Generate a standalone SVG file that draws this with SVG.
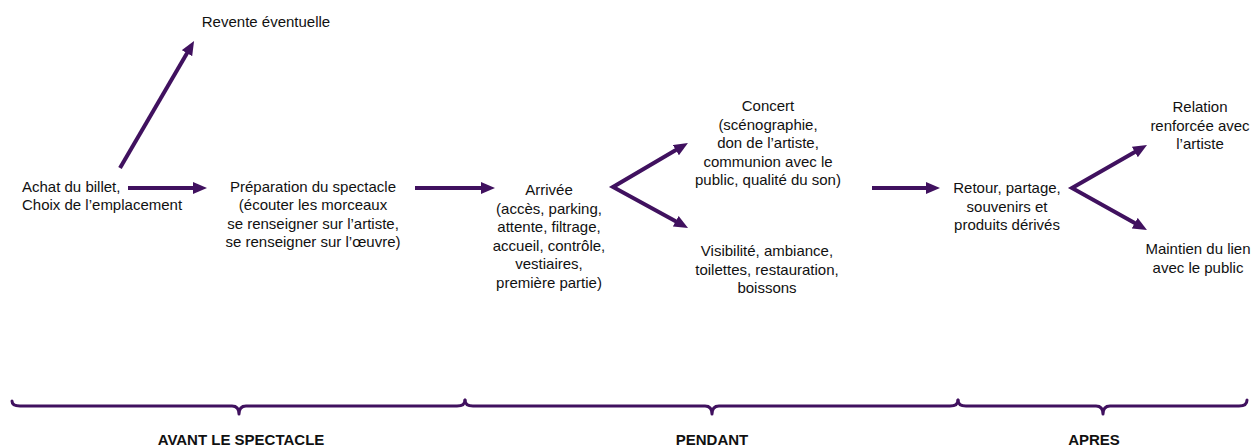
<svg xmlns="http://www.w3.org/2000/svg" width="1252" height="446" viewBox="0 0 1252 446">
<style>
text{font-family:"Liberation Sans",Arial,sans-serif;font-size:15px;fill:#111}
.c{text-anchor:middle}
.b{font-weight:bold;text-anchor:middle}
.arr{fill:none;stroke:#40115f;stroke-width:4;stroke-linejoin:miter}
.br{fill:none;stroke:#40115f;stroke-width:3;stroke-linejoin:round;stroke-linecap:round}
</style>
<defs>
<marker id="ah" markerUnits="userSpaceOnUse" markerWidth="14" markerHeight="12" refX="2" refY="6" orient="auto-start-reverse" viewBox="0 0 14 12">
<path d="M0,0 L14,6 L0,12 z" fill="#40115f"/>
</marker>
</defs>
<rect width="1252" height="446" fill="#fff"/>
<g id="connectors">
<path class="arr" d="M120,168 L188,51.4" marker-end="url(#ah)"/>
<path class="arr" d="M128,188 L195,188" marker-end="url(#ah)"/>
<path class="arr" d="M415,188 L483,188" marker-end="url(#ah)"/>
<path class="arr" d="M677.6,149.1 L613,187 L677.5,222.2" marker-start="url(#ah)" marker-end="url(#ah)"/>
<path class="arr" d="M872,188 L928,188" marker-end="url(#ah)"/>
<path class="arr" d="M1136.6,151 L1072,188 L1136.5,224.1" marker-start="url(#ah)" marker-end="url(#ah)"/>
</g>
<g id="revente"><text class="c" x="266" y="27">Revente éventuelle</text></g>
<g id="achat">
<text x="22" y="191.5">Achat du billet,</text>
<text x="22" y="210">Choix de l’emplacement</text>
</g>
<g id="preparation">
<text class="c" x="313" y="191.5">Préparation du spectacle</text>
<text class="c" x="313" y="210">(écouter les morceaux</text>
<text class="c" x="313" y="228.5">se renseigner sur l’artiste,</text>
<text class="c" x="313" y="247">se renseigner sur l’œuvre)</text>
</g>
<g id="arrivee">
<text class="c" x="549" y="195">Arrivée</text>
<text class="c" x="549" y="213.5">(accès, parking,</text>
<text class="c" x="549" y="232">attente, filtrage,</text>
<text class="c" x="549" y="250.5">accueil, contrôle,</text>
<text class="c" x="549" y="269">vestiaires,</text>
<text class="c" x="549" y="287.5">première partie)</text>
</g>
<g id="concert">
<text class="c" x="768" y="111">Concert</text>
<text class="c" x="768" y="129.5">(scénographie,</text>
<text class="c" x="768" y="148">don de l’artiste,</text>
<text class="c" x="768" y="166.5">communion avec le</text>
<text class="c" x="768" y="185">public, qualité du son)</text>
</g>
<g id="visibilite">
<text class="c" x="767" y="256">Visibilité, ambiance,</text>
<text class="c" x="767" y="274.5">toilettes, restauration,</text>
<text class="c" x="767" y="293">boissons</text>
</g>
<g id="retour">
<text class="c" x="1007" y="193">Retour, partage,</text>
<text class="c" x="1007" y="211.5">souvenirs et</text>
<text class="c" x="1007" y="230">produits dérivés</text>
</g>
<g id="relation">
<text class="c" x="1200" y="112">Relation</text>
<text class="c" x="1200" y="130.5">renforcée avec</text>
<text class="c" x="1200" y="149">l’artiste</text>
</g>
<g id="maintien">
<text class="c" x="1198" y="254">Maintien du lien</text>
<text class="c" x="1198" y="272.5">avec le public</text>
</g>
<g id="avant">
<path class="br" d="M12,401 Q12,406 20,406 L232,406 Q239,406 239,414 Q239,406 246,406 L457,406 Q465,406 465,400"/>
<text class="b" x="241" y="444.5">AVANT LE SPECTACLE</text>
</g>
<g id="pendant">
<path class="br" d="M465,400 Q465,406 473,406 L705,406 Q712,406 712,414 Q712,406 719,406 L950,406 Q958,406 958,400"/>
<text class="b" x="712" y="444.5">PENDANT</text>
</g>
<g id="apres">
<path class="br" d="M958,400 Q958,406 966,406 L1096,406 Q1103,406 1103,414 Q1103,406 1110,406 L1239,406 Q1247,406 1247,400"/>
<text class="b" x="1094" y="444.5">APRES</text>
</g>
</svg>
